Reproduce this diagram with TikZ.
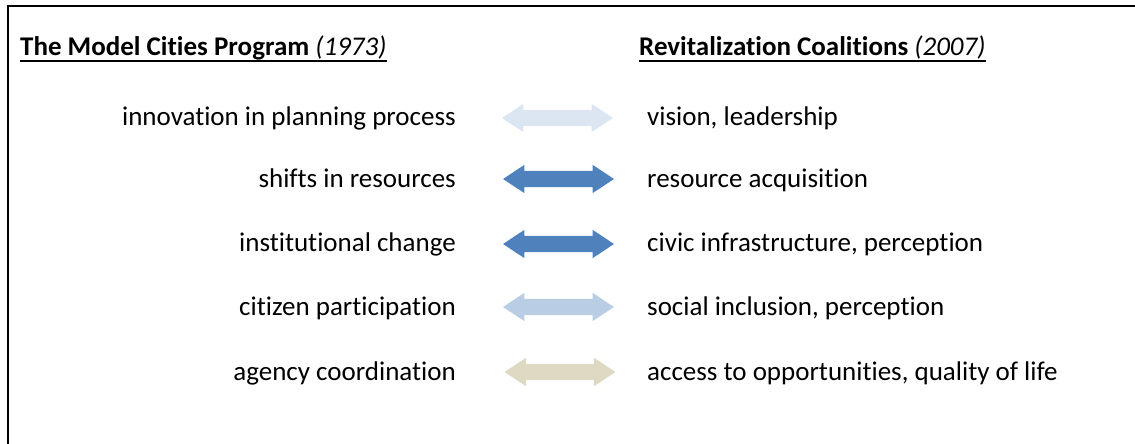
\documentclass[tikz,border=0pt]{standalone}
\usepackage{fontspec}
\setmainfont{Carlito}[Ligatures=CommonOff]
\usetikzlibrary{shapes.arrows}
\definecolor{paleblue}{HTML}{DCE6F2}
\definecolor{midblue}{HTML}{4F81BD}
\definecolor{softblue}{HTML}{B9CDE5}
\definecolor{sand}{HTML}{DDD9C3}
\tikzset{
  body/.style={inner sep=0pt, font=\fontsize{27}{31}\selectfont},
  lefttext/.style={body, anchor=base east},
  righttext/.style={body, anchor=base west},
  heading/.style={inner sep=0pt, anchor=base west, font=\fontsize{27}{31}\selectfont\bfseries},
  link/.style={shape=double arrow, draw=none, fill=#1, minimum height=111pt,
    minimum width=28pt, inner xsep=0pt, inner ysep=8pt,
    double arrow head extend=6pt, double arrow tip angle=67},
  frame/.style={line width=2pt, line cap=rect}
}
\begin{document}
\begin{tikzpicture}[x=1pt,y=1pt]
\useasboundingbox (0,0) rectangle (1135,444);
% frame: top and left edges
\draw[frame] (8,0) -- (8,438) -- (1136,438);
% column headings
\node[heading] (hl) at (20,388) {The Model Cities Program \textit{\mdseries(1973)}};
\node[heading] (hr) at (639,388) {Revitalization Coalitions \textit{\mdseries(2007)}};
\draw[line width=2pt] ([yshift=-5pt]hl.base west) -- ([yshift=-5pt]hl.base east);
\draw[line width=2pt] ([yshift=-5pt]hr.base west) -- ([yshift=-5pt]hr.base east);
% rows
\node[lefttext] (l1) at (456,318) {innovation in planning process};
\node[lefttext] (l2) at (456,256) {shifts in resources};
\node[lefttext] (l3) at (456,192) {institutional change};
\node[lefttext] (l4) at (456,128) {citizen participation};
\node[lefttext] (l5) at (456,63) {agency coordination};
\node[righttext] (r1) at (647,318) {vision, leadership};
\node[righttext] (r2) at (647,256) {resource acquisition};
\node[righttext] (r3) at (647,192) {civic infrastructure, perception};
\node[righttext] (r4) at (647,128) {social inclusion, perception};
\node[righttext] (r5) at (647,63) {access to opportunities, quality of life};
% two-way arrows between the columns
\node[link=paleblue] (a1) at (557.5,326) {};
\node[link=midblue]  (a2) at (558.5,265) {};
\node[link=midblue]  (a3) at (558.5,200) {};
\node[link=softblue] (a4) at (558.5,137) {};
\node[link=sand]     (a5) at (560,72) {};
\end{tikzpicture}
\end{document}
